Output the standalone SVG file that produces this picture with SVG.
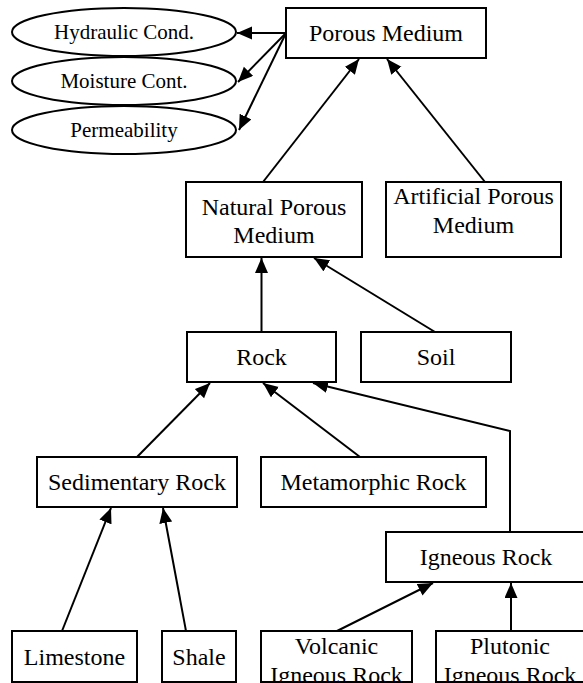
<svg xmlns="http://www.w3.org/2000/svg" width="583" height="683" viewBox="0 0 583 683">
<style>
.box{fill:#fff;stroke:#000;stroke-width:2}
.ell{fill:#fff;stroke:#000;stroke-width:2}
.t{font-family:'Liberation Serif',Tinos,'Times New Roman','Noto Serif','DejaVu Serif',serif;font-size:24px;fill:#000;text-anchor:middle}
.te{font-family:'Liberation Serif',Tinos,'Times New Roman','Noto Serif','DejaVu Serif',serif;font-size:21px;fill:#000;text-anchor:middle}
.e{fill:none;stroke:#000;stroke-width:2;marker-end:url(#ah)}
</style>
<defs>
<marker id="ah" markerUnits="userSpaceOnUse" markerWidth="16" markerHeight="14" refX="15" refY="6.5" orient="auto">
<path d="M0,0 L15,6.5 L0,13 z" fill="#000"/>
</marker>
</defs>
<rect width="583" height="683" fill="#fff"/>
<g id="connectors">
<line class="e" x1="286" y1="33" x2="237" y2="33"/>
<line class="e" x1="286" y1="33" x2="238" y2="82"/>
<line class="e" x1="286" y1="33" x2="239" y2="130"/>
<line class="e" x1="263" y1="182" x2="359" y2="59"/>
<line class="e" x1="485" y1="182" x2="387" y2="59"/>
<line class="e" x1="261.5" y1="332" x2="261.5" y2="258"/>
<line class="e" x1="435" y1="332" x2="314" y2="258"/>
<line class="e" x1="137" y1="457" x2="210" y2="383"/>
<line class="e" x1="360" y1="457" x2="263" y2="383"/>
<polyline class="e" points="510,532 510,431 313,383"/>
<line class="e" x1="62" y1="631" x2="111" y2="508"/>
<line class="e" x1="186" y1="631" x2="163" y2="508"/>
<line class="e" x1="337" y1="631" x2="433" y2="583"/>
<line class="e" x1="511" y1="631" x2="511" y2="583"/>
</g>
<g id="hydraulic"><ellipse class="ell" cx="124" cy="32" rx="112" ry="24"/><text class="te" x="124" y="39">Hydraulic Cond.</text></g>
<g id="moisture"><ellipse class="ell" cx="124" cy="81" rx="112" ry="24"/><text class="te" x="124" y="88">Moisture Cont.</text></g>
<g id="permeability"><ellipse class="ell" cx="124" cy="130" rx="112" ry="24"/><text class="te" x="124" y="137">Permeability</text></g>
<g id="porous"><rect class="box" x="286" y="8" width="200" height="50"/><text class="t" x="386" y="41">Porous Medium</text></g>
<g id="natural"><rect class="box" x="186" y="182" width="176" height="75"/><text class="t" x="274" y="215">Natural Porous</text><text class="t" x="274" y="243">Medium</text></g>
<g id="artificial"><rect class="box" x="386" y="182" width="175" height="75"/><text class="t" x="473.5" y="204">Artificial Porous</text><text class="t" x="473.5" y="233">Medium</text></g>
<g id="rock"><rect class="box" x="187" y="332" width="149" height="50"/><text class="t" x="261.5" y="365">Rock</text></g>
<g id="soil"><rect class="box" x="361" y="332" width="150" height="50"/><text class="t" x="436" y="365">Soil</text></g>
<g id="sedimentary"><rect class="box" x="37" y="457" width="200" height="50"/><text class="t" x="137" y="490">Sedimentary Rock</text></g>
<g id="metamorphic"><rect class="box" x="261" y="457" width="225" height="50"/><text class="t" x="373.5" y="490">Metamorphic Rock</text></g>
<g id="igneous"><rect class="box" x="386" y="532" width="200" height="50"/><text class="t" x="486" y="565">Igneous Rock</text></g>
<g id="limestone"><rect class="box" x="12" y="631" width="125" height="51"/><text class="t" x="74.5" y="665">Limestone</text></g>
<g id="shale"><rect class="box" x="162" y="631" width="74" height="51"/><text class="t" x="199" y="665">Shale</text></g>
<g id="volcanic"><rect class="box" x="261" y="631" width="151" height="51"/><text class="t" x="336.5" y="654">Volcanic</text><text class="t" x="336.5" y="683">Igneous Rock</text></g>
<g id="plutonic"><rect class="box" x="436" y="631" width="148" height="51"/><text class="t" x="510" y="654">Plutonic</text><text class="t" x="510" y="683">Igneous Rock</text></g>
</svg>
